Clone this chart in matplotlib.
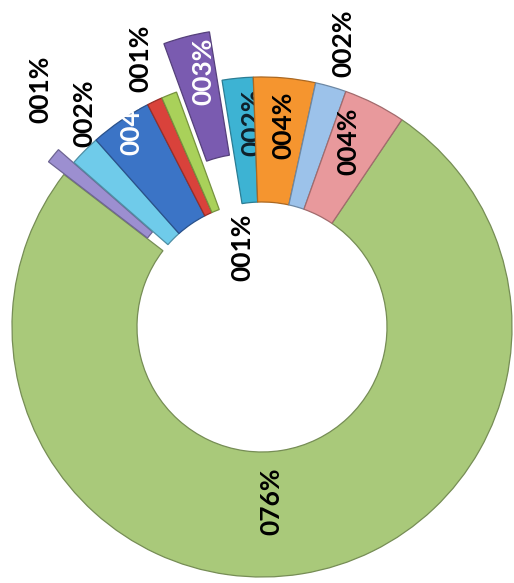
import numpy as np
import matplotlib
matplotlib.use("Agg")
import matplotlib.pyplot as plt
import matplotlib.colors as mcolors

# slice shares in percent, counter-clockwise from the pink slice
shares = [4, 2, 4, 2, 3, 1, 1, 4, 2, 1, 76]
colors = ['#e8999c', '#9cc2ea', '#f5952f', '#3db3d3', '#7a5bb0', '#a9d15a',
          '#d9423b', '#3b74c6', '#6fcbea', '#9c8fd0', '#a9c97a']
explode = [0, 0, 0, 0, 0.2, 0, 0, 0, 0, 0.08, 0]
text_colors = ['black', 'black', 'black', '#10202a', 'white', 'black',
               'black', 'white', 'black', 'black', 'black']
# label placement: distance from wedge centre, angle offset in degrees
label_r = [0.82, 1.18, 0.81, 0.82, 0.85, 0.33, 1.18, 0.975, 1.11, 1.22, 0.70]
label_dt = [2, 0, -1, -3, -2, -8, -1, -2, -5.5, -8, -6]

fig = plt.figure(figsize=(5.14, 5.83), dpi=100)
ax = fig.add_axes([0, 0, 1, 1])

edge = [mcolors.to_hex(np.array(mcolors.to_rgb(c)) * 0.7) for c in colors]
wedges, _ = ax.pie(shares, colors=colors, explode=explode, startangle=56,
                   counterclock=True, radius=1.0,
                   wedgeprops=dict(width=0.5, linewidth=0.9))

for i, w in enumerate(wedges):
    w.set_edgecolor(edge[i])
    w.set_zorder(20 - i)
    mid = np.deg2rad((w.theta1 + w.theta2) / 2 + label_dt[i])
    cx, cy = w.center
    x = cx + label_r[i] * np.cos(mid)
    y = cy + label_r[i] * np.sin(mid)
    ax.text(x, y, '%03d%%' % shares[i], rotation=90, ha='center', va='center',
            fontsize=19, fontweight='bold', family=['Lato', 'DejaVu Sans'],
            color=text_colors[i], zorder=20 - i + 0.5)

ax.set_aspect('auto')
ax.set_xlim(-1.048, 1.008)
ax.set_ylim(-1.024, 1.308)
ax.axis('off')

fig.savefig('out.png', dpi=100, facecolor='white')
